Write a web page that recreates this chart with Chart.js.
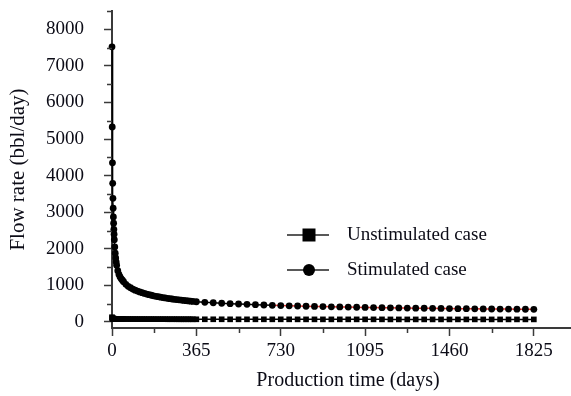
<!DOCTYPE html>
<html>
<head>
<meta charset="utf-8">
<script src="https://cdn.jsdelivr.net/npm/chart.js@4/dist/chart.umd.min.js"></script>
<style>
html, body { margin: 0; padding: 0; background: #fff; overflow: hidden; }
#wrap { width: 588px; height: 396px; position: relative; }
</style>
</head>
<body>
<div id="wrap"><canvas id="chart"></canvas></div>
<script>
// production time (days)
var days = [0, 1, 2, 3, 4, 5, 6, 7, 8, 9, 10,
    12, 14, 16, 18, 20,
    25, 30, 35, 40, 45, 50,
    60, 70, 80, 90, 100, 110, 120, 130, 140, 150, 160, 170, 180, 190, 200,
    210, 220, 230, 240, 250, 260, 270, 280, 290, 300, 310, 320, 330, 340, 350,
    365, 401.5, 438, 474.5, 511, 547.5, 584, 620.5, 657, 693.5, 730,
    766.5, 803, 839.5, 876, 912.5, 949, 985.5, 1022, 1058.5, 1095,
    1131.5, 1168, 1204.5, 1241, 1277.5, 1314, 1350.5, 1387, 1423.5, 1460,
    1496.5, 1533, 1569.5, 1606, 1642.5, 1679, 1715.5, 1752, 1788.5, 1825];

// flow rate (bbl/day)
var stimulated = [7520, 5330, 4350, 3790, 3380, 3110, 2870, 2700, 2530, 2400, 2250,
    2050, 1880, 1750, 1640, 1550,
    1400, 1300, 1230, 1180, 1140, 1100,
    1030, 975, 935, 900, 870, 845, 820, 800, 780, 762, 745, 730, 715, 702, 690,
    678, 667, 656, 646, 637, 628, 620, 612, 604, 597, 590, 583, 576, 569, 562,
    552, 538, 525, 512, 501, 491, 481, 472, 464, 456, 449,
    442, 436, 430, 425, 420, 415, 410, 406, 402, 398,
    394, 390, 387, 384, 381, 378, 375, 372, 369, 367,
    364, 362, 359, 357, 355, 353, 351, 349, 347, 345];

var unstimulated = [130, 105, 98, 94, 92, 90, 89, 88, 87, 87, 86,
    86, 85, 85, 84, 84,
    83, 83, 82, 82, 81, 81,
    80, 80, 79, 79, 79, 78, 78, 78, 78, 77, 77, 77, 77, 76, 76,
    76, 76, 76, 75, 75, 75, 75, 75, 74, 74, 74, 74, 74, 74, 73,
    73, 73, 73, 73, 72, 72, 72, 72, 72, 72, 72,
    72, 71, 71, 71, 71, 71, 71, 71, 71, 71,
    71, 71, 70, 70, 70, 70, 70, 70, 70, 70,
    70, 70, 70, 70, 70, 70, 70, 70, 70, 70];

var xTicks = [0, 365, 730, 1095, 1460, 1825];
var xMinorTicks = [182.5, 547.5, 912.5, 1277.5, 1642.5];
var yTicks = [0, 1000, 2000, 3000, 4000, 5000, 6000, 7000, 8000];
var yMinorTicks = [500, 1500, 2500, 3500, 4500, 5500, 6500, 7500, 8500];

var seriesNames = ["Unstimulated case", "Stimulated case"];

var textColor = '#0b0b16';
var axisColor = '#3a3a3a';
var serif = "'Liberation Serif', 'Times New Roman', serif";

function points(values) {
    var out = [];
    for (var i = 0; i < days.length; i++) {
        out.push({ x: days[i], y: values[i] });
    }
    return out;
}

// minor ticks and the legend inside the plot
var extras = {
    id: 'extras',
    afterDraw: function (chart) {
        var ctx = chart.ctx;
        var xs = chart.scales.x;
        var ys = chart.scales.y;
        ctx.save();
        ctx.strokeStyle = axisColor;
        ctx.lineWidth = 1.5;
        ctx.beginPath();
        xMinorTicks.forEach(function (v) {
            var px = Math.round(xs.getPixelForValue(v)) + 0.5;
            ctx.moveTo(px, xs.top);
            ctx.lineTo(px, xs.top + 5);
        });
        yMinorTicks.forEach(function (v) {
            var py = Math.round(ys.getPixelForValue(v)) + 0.5;
            ctx.moveTo(ys.right, py);
            ctx.lineTo(ys.right - 5, py);
        });
        ctx.stroke();

        // legend
        var lx0 = 287, lx1 = 329, mx = 309, tx = 347;
        var rows = [235, 270];
        ctx.strokeStyle = '#222';
        ctx.lineWidth = 1.5;
        for (var i = 0; i < 2; i++) {
            var y = rows[i];
            ctx.beginPath();
            ctx.moveTo(lx0, y);
            ctx.lineTo(lx1, y);
            ctx.stroke();
            ctx.fillStyle = '#000';
            ctx.beginPath();
            if (i === 0) {
                ctx.rect(mx - 6.5, y - 6.5, 13, 13);
            } else {
                ctx.arc(mx, y, 6, 0, Math.PI * 2);
            }
            ctx.fill();
            ctx.font = "19px " + serif;
            ctx.fillStyle = textColor;
            ctx.textBaseline = 'middle';
            ctx.textAlign = 'left';
            ctx.fillText(seriesNames[i], tx, y);
        }
        ctx.restore();
    }
};

var ctx = document.getElementById('chart').getContext('2d');
var myChart = new Chart(ctx, {
    type: 'line',
    data: {
        datasets: [{
            label: seriesNames[0],
            data: points(unstimulated),
            borderColor: '#000',
            backgroundColor: '#000',
            borderWidth: 1.5,
            pointStyle: 'rect',
            pointRadius: 4,
            pointBorderWidth: 0,
            clip: false
        }, {
            label: seriesNames[1],
            data: points(stimulated),
            borderColor: '#000',
            backgroundColor: '#000',
            borderWidth: 1.5,
            pointStyle: 'circle',
            pointRadius: 3.4,
            pointBorderWidth: 0,
            clip: false,
            segment: {
                borderColor: function (c) {
                    return c.p0.parsed.x >= 690 ? '#e8352f' : '#000';
                }
            }
        }]
    },
    options: {
        responsive: true,
        maintainAspectRatio: false,
        animation: false,
        layout: { padding: { top: 11, left: 0, right: 0, bottom: 0 } },
        plugins: {
            legend: { display: false },
            tooltip: { enabled: false }
        },
        scales: {
            x: {
                type: 'linear',
                min: 0,
                max: 2042,
                afterFit: function (s) { s.height = 68; },
                afterBuildTicks: function (s) {
                    s.ticks = xTicks.map(function (v) { return { value: v }; });
                },
                grid: {
                    drawOnChartArea: false,
                    drawTicks: true,
                    tickLength: 8,
                    tickColor: axisColor,
                    tickWidth: 1.5
                },
                border: { display: true, color: axisColor, width: 2 },
                ticks: {
                    color: textColor,
                    padding: 4,
                    maxRotation: 0,
                    font: { family: serif, size: 19 },
                    callback: function (v) { return String(v); }
                },
                title: {
                    display: true,
                    text: 'Production time (days)',
                    color: textColor,
                    padding: { top: 0, bottom: 3 },
                    font: { family: serif, size: 20 }
                }
            },
            y: {
                type: 'linear',
                min: -165,
                max: 8500,
                afterFit: function (s) {
                    s.width = 112;
                    s.paddingTop = 0;
                    s.paddingBottom = 0;
                },
                afterBuildTicks: function (s) {
                    s.ticks = yTicks.map(function (v) { return { value: v }; });
                },
                grid: {
                    drawOnChartArea: false,
                    drawTicks: true,
                    tickLength: 8,
                    tickColor: axisColor,
                    tickWidth: 1.5
                },
                border: { display: true, color: axisColor, width: 2 },
                ticks: {
                    color: textColor,
                    padding: 20,
                    font: { family: serif, size: 19 },
                    callback: function (v) { return String(v); }
                },
                title: {
                    display: true,
                    text: 'Flow rate (bbl/day)',
                    color: textColor,
                    padding: { top: 6, bottom: 0 },
                    font: { family: serif, size: 21 }
                }
            }
        }
    },
    plugins: [extras]
});
</script>
</body>
</html>
